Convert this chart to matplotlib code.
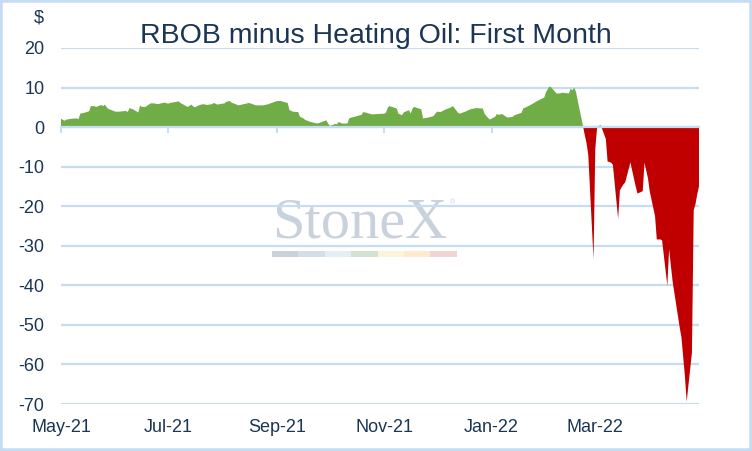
import pandas as pd
import matplotlib
matplotlib.use("Agg")
import matplotlib.pyplot as plt
import matplotlib.dates as mdates
from matplotlib.patches import Rectangle

plt.rcParams['font.family'] = ['Liberation Sans', 'DejaVu Sans']
plt.rcParams['axes.unicode_minus'] = False

# RBOB minus heating oil, first month ($)
dates = [
    "2021-04-30", "2021-05-03", "2021-05-04", "2021-05-07", "2021-05-10", "2021-05-11",
    "2021-05-12", "2021-05-14", "2021-05-17", "2021-05-18", "2021-05-20", "2021-05-21",
    "2021-05-24", "2021-05-25", "2021-05-26", "2021-05-27", "2021-05-28", "2021-06-01",
    "2021-06-03", "2021-06-07", "2021-06-08", "2021-06-09", "2021-06-11", "2021-06-14",
    "2021-06-15", "2021-06-16", "2021-06-18", "2021-06-21", "2021-06-23", "2021-06-25",
    "2021-06-29", "2021-07-01", "2021-07-02", "2021-07-07", "2021-07-08", "2021-07-12",
    "2021-07-13", "2021-07-14", "2021-07-16", "2021-07-19", "2021-07-21", "2021-07-23",
    "2021-07-26", "2021-07-27", "2021-07-29", "2021-08-02", "2021-08-03", "2021-08-05",
    "2021-08-06", "2021-08-10", "2021-08-13", "2021-08-16", "2021-08-18", "2021-08-20",
    "2021-08-24", "2021-08-27", "2021-08-30", "2021-09-01", "2021-09-03", "2021-09-07",
    "2021-09-08", "2021-09-10", "2021-09-13", "2021-09-14", "2021-09-16", "2021-09-17",
    "2021-09-20", "2021-09-22", "2021-09-24", "2021-09-27", "2021-09-29", "2021-09-30",
    "2021-10-01", "2021-10-04", "2021-10-05", "2021-10-06", "2021-10-08", "2021-10-11",
    "2021-10-12", "2021-10-13", "2021-10-15", "2021-10-19", "2021-10-20", "2021-10-22",
    "2021-10-25", "2021-10-28", "2021-11-01", "2021-11-02", "2021-11-03", "2021-11-04",
    "2021-11-08", "2021-11-09", "2021-11-11", "2021-11-12", "2021-11-15", "2021-11-16",
    "2021-11-17", "2021-11-18", "2021-11-22", "2021-11-23", "2021-11-26", "2021-11-29",
    "2021-11-30", "2021-12-01", "2021-12-03", "2021-12-06", "2021-12-08", "2021-12-10",
    "2021-12-13", "2021-12-14", "2021-12-17", "2021-12-20", "2021-12-23", "2021-12-27",
    "2021-12-28", "2021-12-29", "2021-12-31", "2022-01-03", "2022-01-04", "2022-01-05",
    "2022-01-07", "2022-01-10", "2022-01-13", "2022-01-14", "2022-01-18", "2022-01-19",
    "2022-01-21", "2022-01-24", "2022-01-27", "2022-01-31", "2022-02-01", "2022-02-03",
    "2022-02-04", "2022-02-07", "2022-02-09", "2022-02-10", "2022-02-14", "2022-02-15",
    "2022-02-16", "2022-02-17", "2022-02-18", "2022-02-22", "2022-02-23", "2022-02-24",
    "2022-02-25", "2022-02-28", "2022-03-01", "2022-03-02", "2022-03-03", "2022-03-04",
    "2022-03-07", "2022-03-08", "2022-03-09", "2022-03-10", "2022-03-11", "2022-03-14",
    "2022-03-15", "2022-03-16", "2022-03-17", "2022-03-18", "2022-03-21", "2022-03-22",
    "2022-03-23", "2022-03-24", "2022-03-25", "2022-03-28", "2022-03-29", "2022-03-30",
    "2022-03-31", "2022-04-01", "2022-04-04", "2022-04-05", "2022-04-06", "2022-04-07",
    "2022-04-08", "2022-04-11", "2022-04-12", "2022-04-13", "2022-04-14", "2022-04-18",
    "2022-04-19", "2022-04-20", "2022-04-21", "2022-04-22", "2022-04-25", "2022-04-26",
    "2022-04-27", "2022-04-28", "2022-04-29",
]
spread = [
    2.4, 1.6, 1.9, 2.1, 2.2, 2.0,
    3.4, 3.6, 4.0, 5.3, 5.3, 5.1,
    5.6, 5.3, 5.7, 5.0, 4.6, 3.9,
    3.9, 4.1, 3.8, 4.8, 4.5, 3.7,
    5.5, 5.1, 5.1, 6.0, 6.0, 5.8,
    6.2, 5.9, 6.1, 6.5, 6.1, 5.1,
    5.3, 5.7, 5.0, 5.6, 5.8, 5.6,
    5.8, 6.1, 5.7, 6.0, 6.4, 6.6,
    6.2, 5.5, 5.8, 6.1, 5.8, 5.5,
    5.5, 5.8, 6.3, 6.6, 6.6, 6.1,
    4.3, 3.9, 3.8, 2.6, 2.2, 1.8,
    1.3, 1.1, 0.9, 1.4, 1.7, 0.9,
    0.3, 0.8, 0.7, 1.3, 0.9, 0.9,
    2.2, 2.4, 2.6, 3.1, 3.8, 3.6,
    3.2, 3.3, 3.4, 3.7, 5.0, 5.3,
    4.7, 3.4, 3.0, 3.7, 4.3, 3.4,
    4.7, 5.1, 4.5, 2.2, 2.4, 2.8,
    3.4, 3.9, 3.8, 4.5, 4.8, 5.3,
    3.6, 3.4, 3.9, 4.5, 4.8, 4.7,
    3.4, 2.8, 1.9, 2.6, 3.3, 3.1,
    3.3, 2.4, 2.6, 3.0, 3.6, 4.7,
    5.1, 5.8, 6.6, 7.5, 8.9, 10.3,
    10.0, 8.5, 8.5, 8.7, 8.5, 9.7,
    9.3, 10.0, 8.9, 0.3, -2.0, -4.0,
    -7.0, -33.4, -5.5, -0.3, 0.3, 0.6,
    -3.0, -8.7, -8.8, -9.0, -9.5, -23.2,
    -16.0, -15.2, -14.5, -14.0, -8.9, -11.0,
    -13.0, -15.0, -16.8, -16.2, -9.0, -11.0,
    -13.0, -16.3, -22.5, -28.4, -28.4, -28.4,
    -28.6, -40.1, -30.9, -35.0, -39.0, -50.6,
    -53.1, -58.0, -63.0, -69.4, -57.0, -21.0,
    -19.5, -17.0, -15.0,
]

tick_dates = ["2021-05-01", "2021-07-01", "2021-09-01", "2021-11-01", "2022-01-01", "2022-03-01"]
tick_labels = ["May-21", "Jul-21", "Sep-21", "Nov-21", "Jan-22", "Mar-22"]
y_ticks = [20, 10, 0, -10, -20, -30, -40, -50, -60, -70]

GREEN = "#70AD47"
RED = "#C00000"
GRID = "#C5DCF2"
TEXT = "#1B3556"
MARK = "#C9D2DC"

x = pd.to_datetime(dates)
s = pd.Series(spread)

fig = plt.figure(figsize=(7.52, 4.51), dpi=100)
ax = fig.add_axes([0.0811, 0.1042, 0.8484, 0.7894])

# watermark behind everything
ax.text(0.4687, 0.4663, "StoneX", transform=ax.transAxes, ha="center", va="baseline",
        fontsize=42, family=["Liberation Serif", "DejaVu Serif"], color=MARK, zorder=0.1)
ax.text(0.6135, 0.565, "\u00ae", transform=ax.transAxes, ha="center", va="center",
        fontsize=5, color=MARK, zorder=0.1)
bar_colors = ["#C9D1DA", "#D3DEEA", "#E3EEF7", "#D3E2D3", "#FAF4DA", "#FCEBCF", "#F1D4D4"]
for i, c in enumerate(bar_colors):
    ax.add_patch(Rectangle((0.3307 + i * 0.0414, 0.4129), 0.0414, 0.0169,
                           transform=ax.transAxes, color=c, lw=0, zorder=0.1))

ax.fill_between(x, s, 0, where=s >= 0, interpolate=True, color=GREEN, lw=0, zorder=2)
ax.fill_between(x, s, 0, where=s <= 0, interpolate=True, color=RED, lw=0, zorder=2)

ax.set_ylim(-70, 20)
ax.set_xlim(pd.Timestamp("2021-05-01"), x[-1])
ax.set_yticks(y_ticks)
ax.yaxis.grid(True, color=GRID, lw=1.6)
ax.set_axisbelow(True)
for side in ["top", "right", "left"]:
    ax.spines[side].set_visible(False)
ax.spines["bottom"].set_position(("data", 0))
ax.spines["bottom"].set_color(GRID)
ax.spines["bottom"].set_linewidth(1.6)
ax.spines["bottom"].set_zorder(3)

tick_nums = mdates.date2num(pd.to_datetime(tick_dates))
ax.set_xticks(tick_nums)
ax.tick_params(axis="x", labelbottom=False, direction="out", length=4, width=1.4, color=GRID)
ax.tick_params(axis="y", length=0, pad=12, labelsize=13, labelcolor=TEXT)

sec = ax.secondary_xaxis("bottom")
sec.set_xticks(tick_nums)
sec.set_xticklabels(tick_labels)
sec.tick_params(length=0, pad=11, labelsize=13, labelcolor=TEXT)
sec.spines["bottom"].set_visible(False)

fig.text(0.5, 1 - 43 / 451, "RBOB minus Heating Oil: First Month", ha="center", va="baseline",
         fontsize=20.5, color=TEXT)
fig.text(39 / 752, 1 - 17.5 / 451, "$", ha="center", va="center", fontsize=13, color=TEXT)

fig.patches.append(Rectangle((0, 0), 1, 1, transform=fig.transFigure, fill=False,
                             edgecolor=GRID, lw=4))

fig.savefig("out.png", dpi=100)
